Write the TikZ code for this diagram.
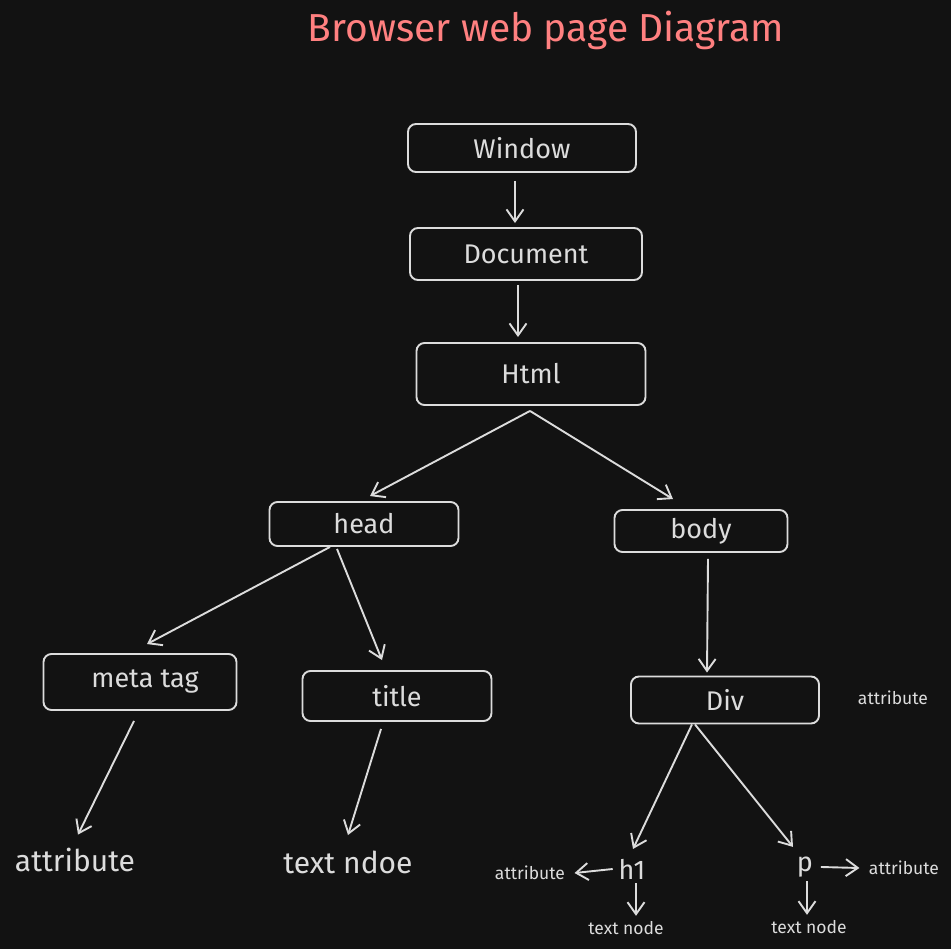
\documentclass[tikz,border=0pt]{standalone}
\usepackage{fontspec}
\setmainfont{Fira Sans}
\usepackage{tikz}
\usetikzlibrary{arrows.meta}
\definecolor{bgdark}{HTML}{121212}
\definecolor{inkgray}{HTML}{DCDCDC}
\definecolor{titlered}{HTML}{FF8080}

\begin{document}
\begin{tikzpicture}[x=1pt,y=-1pt,
    box/.style={draw=inkgray, line width=1.9pt, rounded corners=8pt, text=inkgray, font=\fontsize{27}{31}\selectfont},
    biglbl/.style={text=inkgray, font=\fontsize{30}{34}\selectfont},
    smalllbl/.style={text=inkgray, font=\fontsize{17.5}{20}\selectfont},
    arr/.style={draw=inkgray, line width=1.9pt, -{Straight Barb[length=12pt,width=17pt,line width=1.9pt]}}]
               \fill[bgdark] (0,0) rectangle (951,949);
               \useasboundingbox (0,0) rectangle (951,949);
               \node[text=titlered, font=\fontsize{39}{43}\selectfont] (heading) at (546,30) {Browser web page Diagram};
               % the tree of boxes
               \node[box, minimum width=228pt, minimum height=48pt] (win) at (522,148) {Window};
               \node[box, minimum width=232pt, minimum height=52pt] (doc) at (526,254) {Document};
               \node[box, minimum width=229pt, minimum height=62pt] (html) at (531,374) {Html};
               \node[box, minimum width=189pt, minimum height=44pt] (head) at (364,524) {head};
               \node[box, minimum width=173pt, minimum height=42pt] (body) at (701,531) {body};
               \node[box, minimum width=193pt, minimum height=56pt] (meta) at (140,682) {\hspace{10pt}meta tag};
               \node[box, minimum width=189pt, minimum height=50pt] (title) at (397,696) {title};
               \node[box, minimum width=188pt, minimum height=47pt] (div) at (725,700) {Div};
               \node[smalllbl] (divattr) at (893,698) {attribute};
               % leaves
               \node[biglbl] (metaattr) at (75,860) {attribute};
               \node[biglbl] (titletext) at (348,862) {text ndoe};
               \node[box, draw=none, inner sep=1pt] (hone) at (632,869) {h1};
               \node[box, draw=none, inner sep=1pt] (para) at (805,867) {p};
               \node[smalllbl] (honeattr) at (530,873) {attribute};
               \node[smalllbl] (paraattr) at (904,868) {attribute};
               \node[smalllbl] (honetext) at (626,928) {text node};
               \node[smalllbl] (paratext) at (809,927) {text node};
               % connectors
               \draw[arr] ([xshift=-7pt,yshift=-8pt]win.south) -- ([xshift=-11pt,yshift=4pt]doc.north);
               \draw[arr] ([xshift=-8pt,yshift=-4pt]doc.south) -- ([xshift=-13pt,yshift=5pt]html.north);
               \draw[arr] ([xshift=-1pt,yshift=-5pt]html.south) -- ([xshift=6pt,yshift=5pt]head.north);
               \draw[arr] ([xshift=-1pt,yshift=-5pt]html.south) -- ([xshift=-28pt,yshift=10pt]body.north);
               \draw[arr] ([xshift=-34pt]head.south) -- ([xshift=7pt,yshift=9pt]meta.north);
               \draw[arr] ([xshift=-27pt,yshift=-2pt]head.south) -- ([xshift=-15pt,yshift=10pt]title.north);
               \draw[arr] ([xshift=7pt,yshift=-6pt]body.south) -- ([xshift=-18pt,yshift=3pt]div.north);
               \draw[arr] ([xshift=-6pt,yshift=-10pt]meta.south) -- ([xshift=3pt,yshift=10pt]metaattr.north);
               \draw[arr] ([xshift=-16pt,yshift=-7pt]title.south) -- ([yshift=12pt]titletext.north);
               \draw[arr] ([xshift=-33pt]div.south) -- ([xshift=1pt,yshift=8pt]hone.north);
               \draw[arr] ([xshift=-30pt]div.south) -- ([xshift=-12pt,yshift=8pt]para.north);
               \draw[arr] ([xshift=-4pt]hone.west) -- ([xshift=6pt]honeattr.east);
               \draw[arr] ([xshift=4pt,yshift=-2pt]hone.south) -- ([xshift=10pt,yshift=2pt]honetext.north);
               \draw[arr] ([xshift=6pt]para.east) -- ([xshift=-6pt]paraattr.west);
               \draw[arr] ([xshift=2pt,yshift=-2pt]para.south) -- ([xshift=-2pt,yshift=2pt]paratext.north);
\end{tikzpicture}
\end{document}
